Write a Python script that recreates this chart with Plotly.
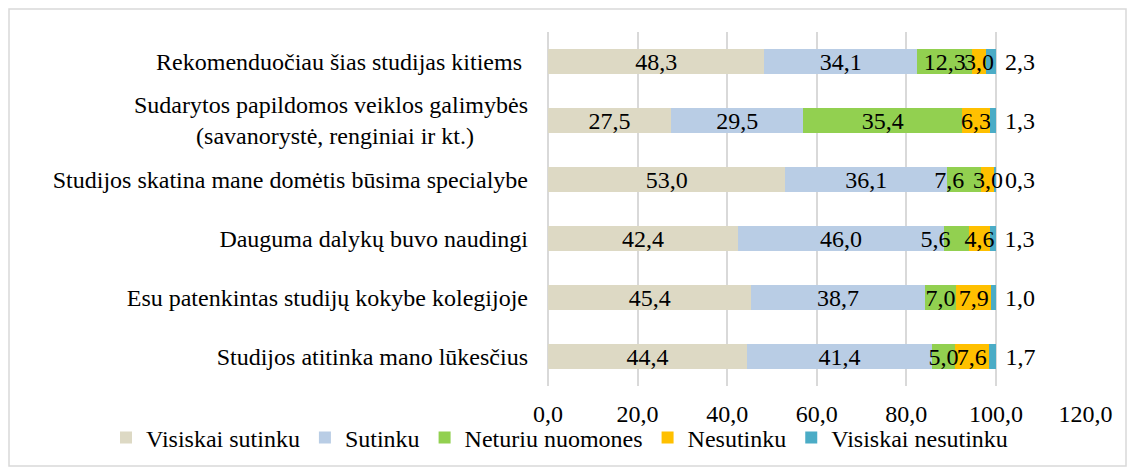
import plotly.graph_objects as go

categories = [
    "Rekomenduočiau šias studijas kitiems\u00a0",
    "Sudarytos papildomos veiklos galimybės<br>(savanorystė, renginiai ir kt.)" + "\u00a0" * 9,
    "Studijos skatina mane domėtis būsima specialybe",
    "Dauguma dalykų buvo naudingi",
    "Esu patenkintas studijų kokybe kolegijoje",
    "Studijos atitinka mano lūkesčius",
]
series_names = ["Visiskai sutinku", "Sutinku", "Neturiu nuomones", "Nesutinku", "Visiskai nesutinku"]
visiskai_sutinku = [48.3, 27.5, 53.0, 42.4, 45.4, 44.4]
sutinku = [34.1, 29.5, 36.1, 46.0, 38.7, 41.4]
neturiu_nuomones = [12.3, 35.4, 7.6, 5.6, 7.0, 5.0]
nesutinku = [3.0, 6.3, 3.0, 4.6, 7.9, 7.6]
visiskai_nesutinku = [2.3, 1.3, 0.3, 1.3, 1.0, 1.7]
tick_values = [0, 20, 40, 60, 80, 100, 120]

values = [visiskai_sutinku, sutinku, neturiu_nuomones, nesutinku, visiskai_nesutinku]
colors = ["#DDD9C4", "#B9CDE5", "#92D050", "#FFC000", "#4BACC6"]

FONT = "Liberation Serif"
FS = 24
XR = [0, 120.1]
# label nudges (series index, row index) -> trailing non-breaking spaces (moves label left)
LABEL_NUDGE = {(2, 2): 5, (2, 3): 7}

fig = go.Figure()
# coloured bars (no text)
for name, vals, col in zip(series_names, values, colors):
    fig.add_trace(go.Bar(
        name=name, y=categories, x=vals, orientation="h",
        marker=dict(color=col, line=dict(width=0)),
        hoverinfo="x+name",
    ))
# transparent copies on an overlaid axis pair so that all value labels sit on top
for i, (name, vals) in enumerate(zip(series_names, values)):
    last = i == len(series_names) - 1
    if last:
        tmpl = "\u00a0%{x:.1f}"
    else:
        tmpl = ["%{x:.1f}" + "\u00a0" * LABEL_NUDGE.get((i, j), 0) for j in range(len(vals))]
    fig.add_trace(go.Bar(
        name=name, y=categories, x=vals, orientation="h",
        xaxis="x2", yaxis="y2", showlegend=False,
        marker=dict(color="rgba(0,0,0,0)", line=dict(width=0)),
        texttemplate=tmpl,
        textposition=("outside" if last else "inside"),
        insidetextanchor="middle",
        textangle=0,
        constraintext="none",
        cliponaxis=False,
        textfont=dict(family=FONT, size=FS, color="black"),
        insidetextfont=dict(family=FONT, size=FS, color="black"),
        outsidetextfont=dict(family=FONT, size=FS, color="black"),
        hoverinfo="skip",
    ))

# figure is placed by the page 8px from the top-left corner
W, H = 1119, 459
L, R, T, B = 540, 1078, 24, 378
pw, ph = R - L, B - T

fig.update_layout(
    width=W, height=H,
    margin=dict(l=L, r=W - R, t=T, b=H - B, pad=0, autoexpand=False),
    barmode="stack",
    bargap=0.59,
    separators=", ",
    paper_bgcolor="white",
    plot_bgcolor="white",
    font=dict(family=FONT, size=FS, color="black"),
    showlegend=True,
    legend=dict(
        orientation="h", traceorder="normal",
        xanchor="left", yanchor="middle",
        x=(98 - L) / pw, y=(B - 430) / ph,
        font=dict(family=FONT, size=FS, color="black"),
        itemwidth=30, tracegroupgap=0,
        bgcolor="rgba(0,0,0,0)",
    ),
    xaxis=dict(
        range=XR, tickvals=tick_values, tickformat=".1f",
        showgrid=True, gridcolor="#D9D9D9", gridwidth=2,
        zeroline=True, zerolinecolor="#D9D9D9", zerolinewidth=2,
        showline=False, ticks="", ticklabelstandoff=11,
        tickfont=dict(family=FONT, size=FS, color="black"),
    ),
    yaxis=dict(
        autorange="reversed", type="category",
        showgrid=False, zeroline=False, showline=False, ticks="",
        ticklabelstandoff=19,
        tickfont=dict(family=FONT, size=FS, color="black"),
    ),
    xaxis2=dict(
        range=XR, overlaying="x", showgrid=False, zeroline=False,
        showticklabels=False, showline=False, ticks="",
    ),
    yaxis2=dict(
        autorange="reversed", type="category", overlaying="y",
        showgrid=False, zeroline=False, showticklabels=False,
        showline=False, ticks="",
    ),
    shapes=[dict(
        type="rect", xref="paper", yref="paper",
        x0=(1 - L) / pw, x1=(1118 - L) / pw,
        y0=(B - 458) / ph, y1=(B - 1) / ph,
        line=dict(color="#D9D9D9", width=1.5),
        fillcolor="rgba(0,0,0,0)", layer="below",
    )],
)

fig.write_html("out.html")
